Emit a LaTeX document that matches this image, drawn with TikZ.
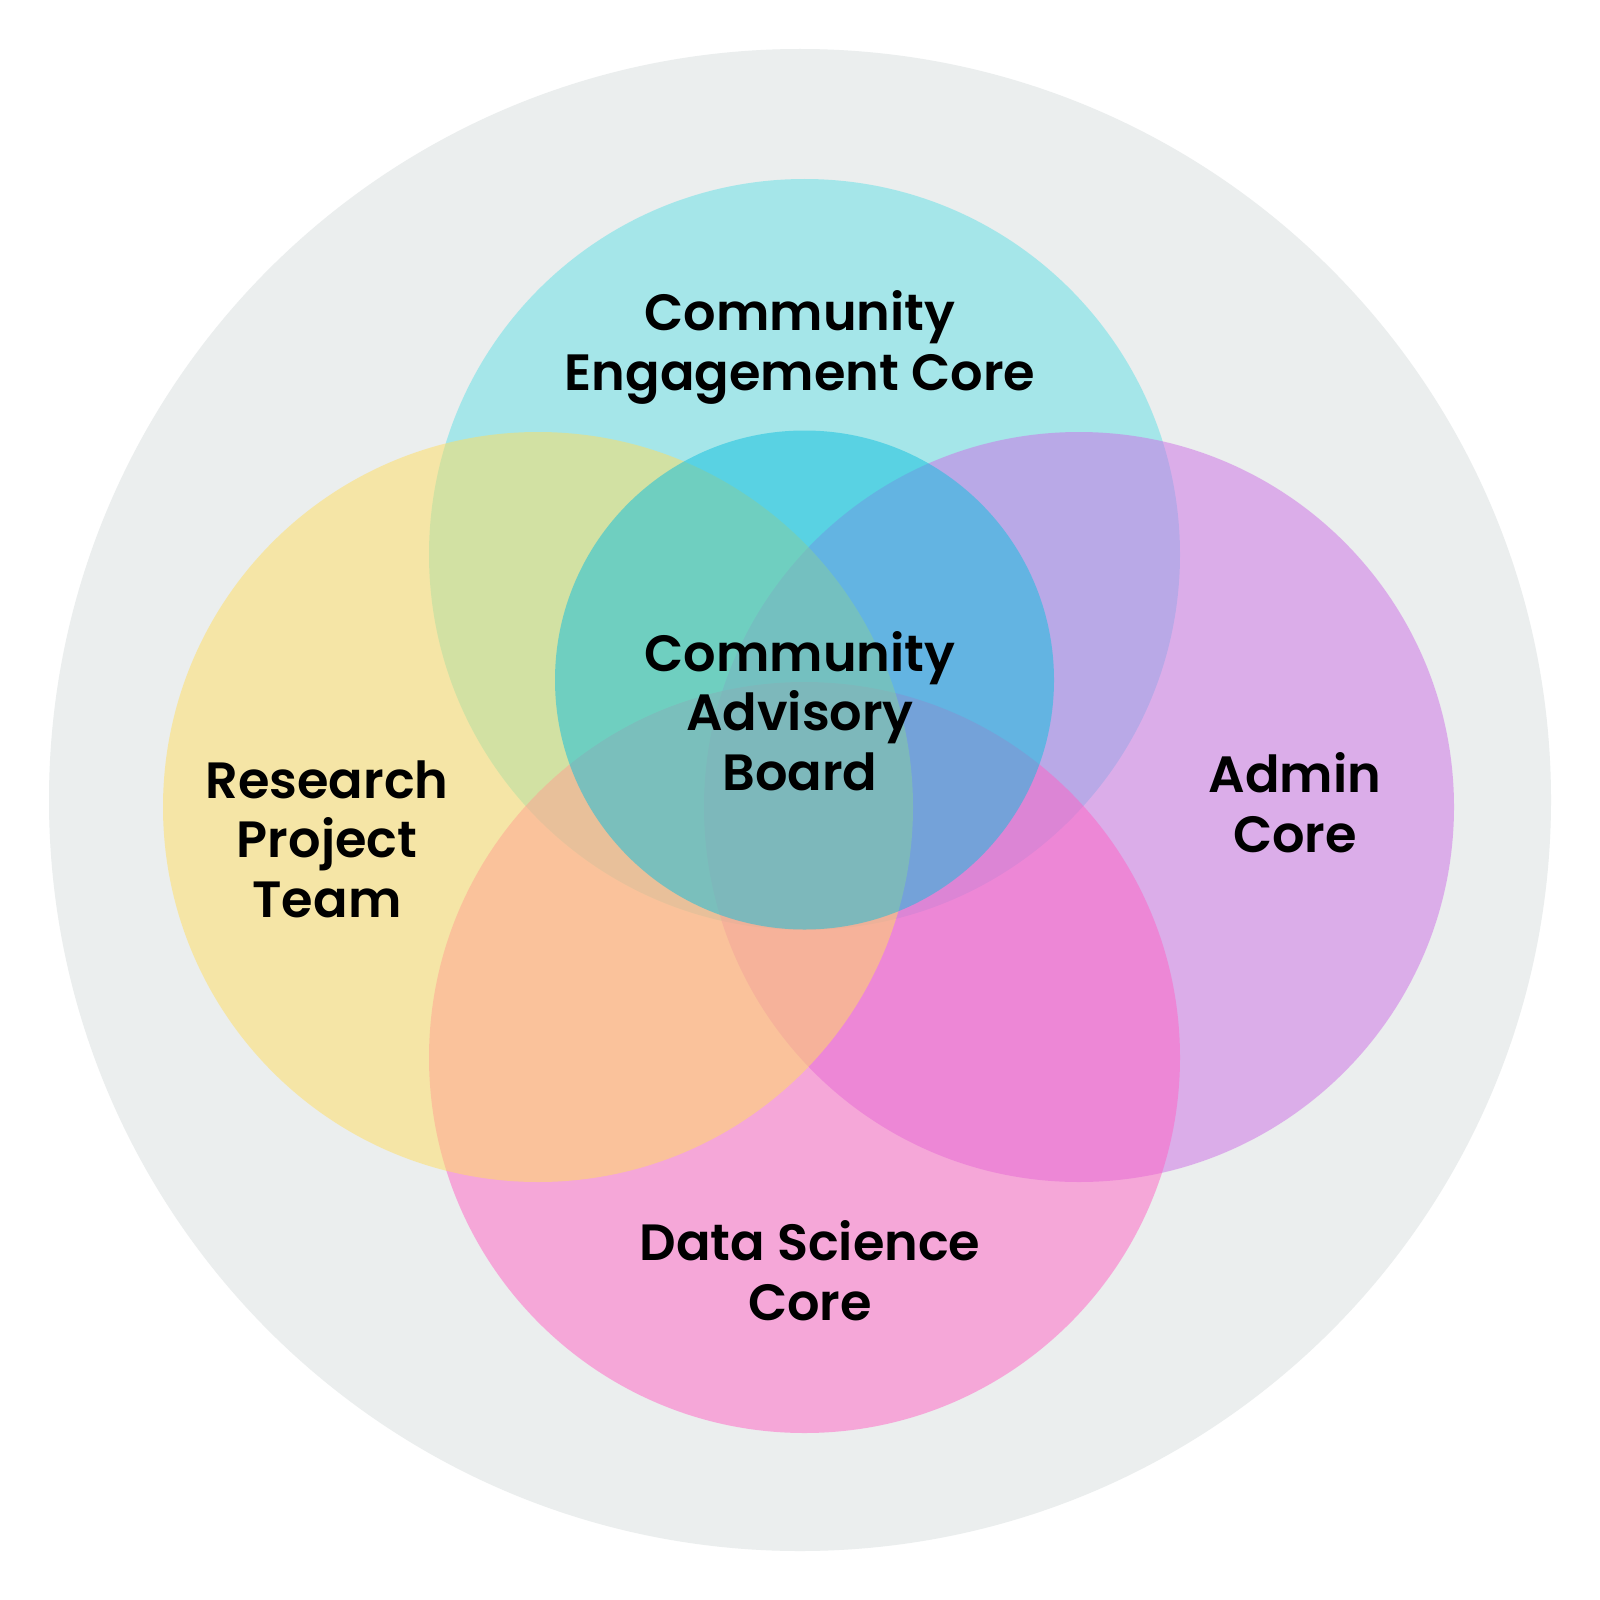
\documentclass[tikz,border=0pt]{standalone}
\usepackage{fontspec}
\newfontfamily\labelfont{Poppins SemiBold}
\usetikzlibrary{positioning}
\definecolor{ringgray}{RGB}{235,238,238}
\definecolor{cecfill}{RGB}{97,224,230}
\definecolor{adminfill}{RGB}{205,110,230}
\definecolor{dscfill}{RGB}{255,98,196}
\definecolor{rptfill}{RGB}{255,222,95}
\definecolor{cabfill}{RGB}{14,191,222}
\begin{document}
\begin{tikzpicture}[x=0.01cm,y=-0.01cm,
    blob/.style={fill opacity=0.5},
    lbl/.style={align=center,anchor=base,inner sep=0pt,
      font={\labelfont\fontsize{14.5pt}{16.8pt}\selectfont}}]
  \fill[white] (0,0) rectangle (1600,1600);
  \useasboundingbox (0,0) rectangle (1600,1600);
  \fill[ringgray] (800,800) circle [radius=751];
  \fill[blob,cecfill] (804.5,554.5) circle [radius=375.5];
  \fill[blob,adminfill] (1079,807) circle [radius=375];
  \fill[blob,dscfill] (804.5,1057.5) circle [radius=375.5];
  \fill[blob,rptfill] (538,807) circle [radius=375];
  \fill[blob,cabfill] (804.5,680) circle [radius=249.5];
  \node[lbl] (cec) at (800,390) {Community\\Engagement Core};
  \node[lbl] (cab) at (800,790) {Community\\Advisory\\Board};
  \node[lbl] (rpt) at (327,917) {Research\\Project\\Team};
  \node[lbl] (admin) at (1295,852) {Admin\\Core};
  \node[lbl] (dsc) at (810,1320) {Data Science\\Core};
\end{tikzpicture}
\end{document}
